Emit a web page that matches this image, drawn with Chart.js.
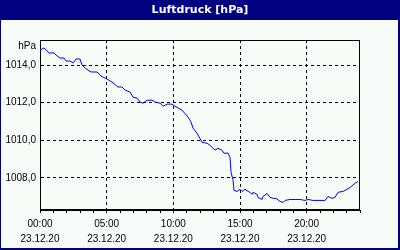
<!DOCTYPE html>
<html>
<head>
<meta charset="utf-8">
<script src="https://cdn.jsdelivr.net/npm/chart.js@4/dist/chart.umd.min.js"></script>
<style>
html,body{margin:0;padding:0;background:#f8fcf8;}
canvas{display:block;}
</style>
</head>
<body>
<canvas id="c" width="400" height="250"></canvas>
<script>
const chartTitle = 'Luftdruck [hPa]';
const unitLabel = 'hPa';
const dateLabel = '23.12.20';
// hours since 00:00 on 23.12.20
const hours = [0.0,0.3,0.68,1.05,1.28,1.5,1.8,1.95,2.25,2.48,2.7,3.0,3.15,3.38,3.6,3.83,4.28,4.58,5.03,5.4,5.85,6.15,6.38,6.75,6.98,7.28,7.5,7.73,8.03,8.4,8.63,9.0,9.23,9.53,9.9,10.13,10.65,11.1,11.33,11.48,11.78,12.15,12.53,12.75,13.13,13.35,13.65,13.8,14.1,14.25,14.33,14.48,14.55,14.78,15.0,15.15,15.38,15.6,15.75,15.9,15.98,16.28,16.35,16.65,16.73,17.03,17.25,17.48,17.7,18.0,18.23,18.38,18.75,19.13,19.5,19.88,20.1,20.48,21.38,21.6,21.9,22.13,22.35,22.73,23.03,23.25,23.63,23.85];
const pressure = [1014.80,1014.91,1014.64,1014.64,1014.48,1014.37,1014.37,1014.21,1014.21,1014.11,1014.32,1014.32,1014.0,1013.84,1013.73,1013.63,1013.63,1013.41,1013.25,1013.09,1012.83,1012.83,1012.67,1012.56,1012.29,1012.24,1012.03,1011.97,1012.13,1012.13,1012.03,1011.97,1011.81,1011.92,1011.92,1011.81,1011.6,1011.23,1010.96,1010.64,1010.37,1009.89,1009.84,1009.73,1009.47,1009.57,1009.47,1009.31,1009.31,1009.09,1008.29,1007.87,1007.33,1007.28,1007.39,1007.28,1007.39,1007.28,1007.23,1007.12,1007.23,1007.12,1006.96,1006.85,1007.01,1007.17,1006.96,1006.91,1006.91,1006.75,1006.69,1006.8,1006.85,1006.85,1006.85,1006.8,1006.85,1006.8,1006.8,1007.01,1006.91,1006.96,1007.23,1007.28,1007.39,1007.49,1007.71,1007.81];
const yTickValues = [1008, 1010, 1012, 1014];
const yMin = 1006.29, yMax = 1015.33;
const xMin = 0, xMax = 24;

const points = hours.map((h, i) => ({x: h, y: pressure[i]}));

const framePlugin = {
  id: 'frame',
  beforeDraw(chart) {
    const ctx = chart.ctx, W = chart.width, H = chart.height;
    ctx.save();
    ctx.fillStyle = '#f8fcf8';
    ctx.fillRect(0, 0, W, H);
    ctx.fillStyle = '#000080';
    ctx.fillRect(0, 0, W, 20);
    ctx.fillRect(0, 0, 1, H);
    ctx.fillRect(W - 2, 0, 2, H);
    ctx.fillRect(0, H - 2, W, 2);
    ctx.fillStyle = '#ffffff';
    ctx.font = 'bold 11px "DejaVu Sans", sans-serif';
    ctx.textAlign = 'center';
    ctx.textBaseline = 'middle';
    ctx.fillText(chartTitle, W / 2, 10);
    ctx.restore();
  },
  beforeDatasetsDraw(chart) {
    const a = chart.chartArea, ctx = chart.ctx;
    ctx.save();
    ctx.strokeStyle = '#000';
    ctx.lineWidth = 1;
    ctx.strokeRect(Math.round(a.left) + 0.5, Math.round(a.top) + 0.5, Math.round(a.right - a.left) - 1, Math.round(a.bottom - a.top) - 1);
    ctx.fillStyle = '#000';
    ctx.font = '10px "Liberation Sans", sans-serif';
    ctx.textAlign = 'right';
    ctx.textBaseline = 'middle';
    ctx.fillText(unitLabel, a.left - 4, a.top + 6);
    ctx.restore();
  }
};

new Chart(document.getElementById('c'), {
  type: 'line',
  data: {
    datasets: [{
      data: points,
      borderColor: '#0000ff',
      borderWidth: 1,
      pointRadius: 0,
      tension: 0,
      fill: false
    }]
  },
  options: {
    responsive: false,
    animation: false,
    events: [],
    layout: {padding: {top: 40, right: 40, left: 0, bottom: 0}},
    plugins: {legend: {display: false}, tooltip: {enabled: false}, title: {display: false}},
    scales: {
      x: {
        type: 'linear',
        min: xMin, max: xMax,
        afterFit: s => { s.height = 40; },
        ticks: {
          stepSize: 1,
          autoSkip: false,
          maxRotation: 0,
          padding: 4,
          color: '#000',
          font: {family: '"Liberation Sans", sans-serif', size: 10, lineHeight: 1.5},
          callback: v => (v % 5 === 0) ? [String(v).padStart(2, '0') + ':00', dateLabel] : ''
        },
        grid: {
          color: c => (c.tick && c.tick.value % 5 === 0 && c.tick.value > 0 && c.tick.value < 24) ? '#000' : 'rgba(0,0,0,0)',
          tickColor: '#000',
          tickLength: 3,
          lineWidth: 1
        },
        border: {display: true, color: '#000', dash: [3, 3]}
      },
      y: {
        type: 'linear',
        min: yMin, max: yMax,
        afterFit: s => { s.width = 40; },
        afterBuildTicks: s => { s.ticks = yTickValues.map(v => ({value: v})); },
        ticks: {
          padding: 4,
          color: '#000',
          font: {family: '"Liberation Sans", sans-serif', size: 10},
          callback: v => v.toFixed(1).replace('.', ',')
        },
        grid: {color: '#000', drawTicks: false, lineWidth: 1},
        border: {display: true, color: '#000', dash: [3, 3]}
      }
    }
  },
  plugins: [framePlugin]
});
</script>
</body>
</html>
